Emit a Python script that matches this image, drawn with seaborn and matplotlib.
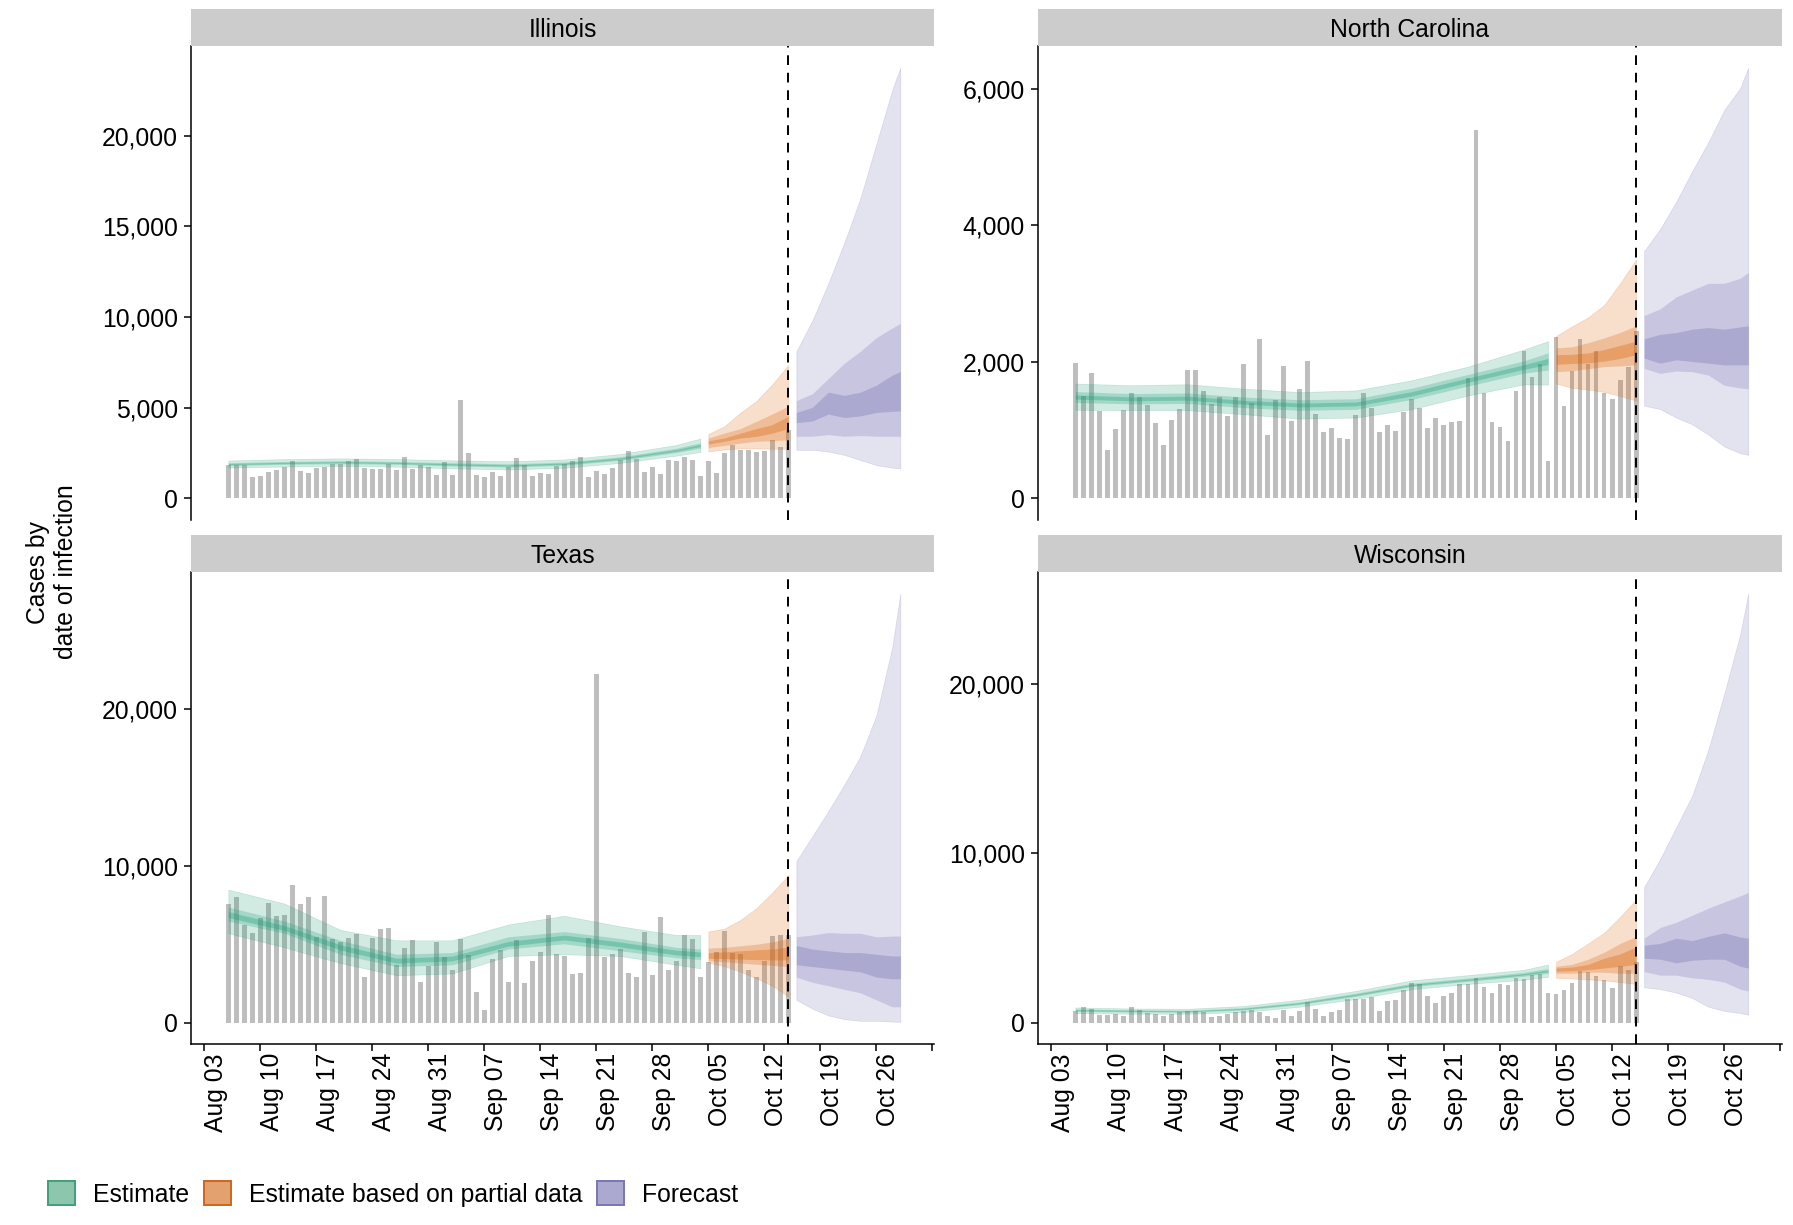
import numpy as np
import pandas as pd
import matplotlib
matplotlib.use("Agg")
import matplotlib.pyplot as plt
import matplotlib.dates as mdates
from matplotlib.patches import Patch
from matplotlib.ticker import FuncFormatter
import seaborn as sns

STATES = ["Illinois", "North Carolina", "Texas", "Wisconsin"]

# daily reported cases, starting on CASE_START
CASE_START = "2020-08-06"
IL_CASES = [1850, 1850, 1850, 1200, 1250, 1440, 1570, 1760, 2090, 1520,
            1400, 1700, 1740, 1920, 1890, 2070, 2180, 1670, 1610, 1610,
            1900, 1570, 2290, 1610, 1850, 1740, 1280, 2020, 1280, 5400,
            2480, 1280, 1180, 1440, 1240, 1760, 2220, 1850, 1240, 1390,
            1370, 1810, 1900, 2070, 2290, 1170, 1520, 1350, 1670, 2130,
            2590, 2180, 1440, 1740, 1350, 2110, 2040, 2260, 2130, 1260,
            2070, 1420, 2480, 2960, 2650, 2650, 2550, 2630, 3240, 2810,
            3800]
NC_CASES = [1977, 1502, 1835, 1287, 714, 1023, 1292, 1551, 1487, 1370,
            1111, 788, 1155, 1306, 1884, 1874, 1571, 1380, 1487, 1213,
            1478, 1962, 1394, 2334, 935, 1434, 1933, 1135, 1605, 2011,
            1233, 979, 1028, 891, 866, 1228, 1551, 1326, 979, 1076,
            993, 1272, 1458, 1321, 1032, 1184, 1072, 1125, 1130, 1757,
            5400, 1541, 1125, 1047, 846, 1576, 2163, 1771, 1967, 548,
            2358, 1350, 1859, 2339, 1972, 2153, 1551, 1453, 1737, 1918,
            2450]
TX_CASES = [7550, 8040, 6230, 5700, 6660, 7610, 6830, 6870, 8760, 7570,
            8020, 5490, 8060, 5320, 5170, 5420, 5660, 2890, 5380, 5980,
            6020, 3680, 4740, 5250, 2620, 3620, 5130, 4210, 3360, 5360,
            4320, 1980, 770, 4060, 4620, 2620, 5270, 2510, 3910, 4510,
            6850, 4380, 4250, 3110, 3150, 5420, 22270, 4210, 4380, 4700,
            3150, 2890, 5810, 3020, 6760, 3360, 3930, 5620, 5340, 2940,
            3850, 4530, 5850, 4420, 4360, 3360, 2890, 3930, 5530, 5590,
            5600]
WI_CASES = [690, 930, 790, 430, 430, 530, 400, 890, 770, 590,
            530, 400, 530, 630, 690, 690, 650, 300, 370, 530,
            630, 690, 730, 630, 360, 260, 770, 390, 690, 1200,
            790, 400, 600, 750, 1380, 1380, 1380, 1480, 690, 1300,
            1360, 1910, 2360, 2270, 1580, 1180, 1580, 1730, 2270, 2270,
            2660, 2070, 1730, 2270, 2230, 2660, 2560, 2820, 2860, 1770,
            1680, 1930, 2320, 3050, 3010, 2760, 2500, 2050, 3310, 3130,
            3600]

EST_DATES = ["2020-08-06", "2020-08-13", "2020-08-20", "2020-08-27", "2020-09-03",
             "2020-09-10", "2020-09-17", "2020-09-24", "2020-10-01", "2020-10-04"]
PARTIAL_DATES = ["2020-10-05", "2020-10-07", "2020-10-09", "2020-10-11",
                 "2020-10-13", "2020-10-15"]
FORECAST_DATES = ["2020-10-16", "2020-10-18", "2020-10-20", "2020-10-22",
                  "2020-10-24", "2020-10-26", "2020-10-28", "2020-10-29"]
FORECAST_LINE = "2020-10-15"

# each row: lower 90, lower 50, lower 20, upper 20, upper 50, upper 90
IL_EST = [(1700, 1810, 1860, 1920, 1970, 2090), (1760, 1880, 1930, 1990, 2040, 2170),
          (1800, 1920, 1970, 2030, 2080, 2210), (1750, 1880, 1930, 1990, 2040, 2170),
          (1660, 1790, 1845, 1915, 1970, 2100), (1600, 1730, 1785, 1855, 1910, 2050),
          (1690, 1830, 1885, 1955, 2010, 2150), (1960, 2100, 2160, 2240, 2300, 2450),
          (2360, 2530, 2605, 2695, 2770, 2950), (2560, 2770, 2865, 2975, 3070, 3300)]
IL_PARTIAL = [(2590, 2810, 3000, 3180, 3330, 3550), (2700, 2920, 3150, 3330, 3600, 3980),
              (2760, 3050, 3330, 3600, 3850, 4720), (2760, 3150, 3420, 3850, 4250, 5370),
              (2740, 3180, 3600, 4070, 4660, 6290), (2740, 3240, 3850, 4530, 5090, 7360)]
IL_FORECAST = [(2680, 3430, 4180, 4740, 5390, 8110), (2680, 3430, 4270, 5020, 5770, 9800),
               (2590, 3520, 4650, 5860, 6610, 11860), (2400, 3430, 4460, 5680, 7450, 14100),
               (2120, 3470, 4550, 5860, 8110, 16540), (1840, 3430, 4740, 6240, 8860, 19540),
               (1700, 3430, 4800, 6800, 9400, 22530), (1650, 3430, 4830, 6990, 9650, 23750)]

NC_EST = [(1298, 1405, 1455, 1515, 1565, 1682), (1293, 1385, 1430, 1486, 1535, 1657),
          (1293, 1390, 1440, 1496, 1545, 1672), (1234, 1330, 1380, 1436, 1485, 1607),
          (1169, 1290, 1340, 1396, 1445, 1557), (1184, 1305, 1355, 1411, 1460, 1582),
          (1308, 1450, 1500, 1564, 1615, 1731), (1507, 1645, 1700, 1762, 1815, 1930),
          (1670, 1835, 1892, 1958, 2015, 2180), (1667, 1880, 1960, 2050, 2130, 2303)]
NC_PARTIAL = [(1682, 1856, 1965, 2104, 2204, 2378), (1620, 1870, 1975, 2110, 2220, 2520),
              (1595, 1900, 1985, 2130, 2280, 2650), (1560, 1930, 2010, 2180, 2350, 2830),
              (1500, 1940, 2050, 2240, 2430, 3150), (1433, 1955, 2104, 2303, 2527, 3497)]
NC_FORECAST = [(1358, 1905, 2055, 2338, 2677, 3622), (1308, 1831, 1980, 2403, 2776, 3945),
               (1184, 1866, 2030, 2428, 2950, 4343), (1085, 1856, 2005, 2478, 3050, 4791),
               (935, 1806, 1980, 2502, 3149, 5214), (761, 1657, 1955, 2478, 3149, 5686),
               (662, 1617, 1955, 2512, 3224, 6010), (637, 1607, 1955, 2527, 3308, 6308)]

TX_EST = [(5700, 6480, 6705, 7085, 7375, 8490), (4805, 5700, 5880, 6190, 6480, 7600),
          (3800, 4360, 4640, 4970, 5250, 5920), (3020, 3575, 3800, 4110, 4360, 5250),
          (3130, 3690, 3940, 4240, 4470, 5250), (4250, 4695, 4880, 5180, 5475, 6260),
          (4360, 5030, 5280, 5580, 5810, 6815), (4250, 4580, 4830, 5140, 5365, 6145),
          (3690, 4135, 4320, 4620, 4805, 5590), (3465, 4025, 4210, 4510, 4695, 5590)]
TX_PARTIAL = [(3830, 3950, 4100, 4450, 4750, 5810), (3600, 3880, 4080, 4520, 4800, 6000),
              (3250, 3800, 4050, 4580, 4900, 6550), (2830, 3720, 4020, 4640, 5000, 7300),
              (2350, 3650, 4000, 4700, 5150, 8300), (1660, 3570, 4000, 4810, 5380, 9420)]
TX_FORECAST = [(1450, 2905, 3690, 4920, 5475, 10300), (890, 2570, 3575, 4690, 5590, 11900),
               (450, 2350, 3465, 4580, 5745, 13500), (220, 2120, 3350, 4470, 5700, 15200),
               (110, 1900, 3240, 4470, 5700, 17000), (110, 1450, 2905, 4360, 5475, 19600),
               (60, 1005, 2795, 4250, 5520, 24000), (45, 1005, 2795, 4250, 5520, 27400)]

WI_EST = [(560, 665, 705, 755, 795, 890), (520, 625, 665, 715, 755, 830),
          (520, 605, 645, 685, 725, 810), (620, 740, 785, 835, 880, 980),
          (935, 1060, 1110, 1170, 1220, 1350), (1390, 1545, 1605, 1675, 1735, 1870),
          (1970, 2120, 2185, 2255, 2320, 2490), (2280, 2430, 2495, 2565, 2630, 2800),
          (2530, 2735, 2810, 2890, 2965, 3115), (2700, 2910, 3000, 3100, 3190, 3430)]
WI_PARTIAL = [(2640, 2910, 3030, 3220, 3320, 3590), (2600, 2910, 3060, 3280, 3440, 4050),
              (2550, 2970, 3120, 3430, 3740, 4670), (2490, 2970, 3220, 3800, 4150, 5300),
              (2390, 2910, 3320, 4050, 4670, 6230), (2280, 2910, 3430, 4470, 5090, 7270)]
WI_FORECAST = [(2080, 3010, 3800, 4570, 4985, 8000), (1970, 2800, 3740, 4670, 5610, 9660),
               (1770, 2800, 3530, 4985, 5920, 11530), (1450, 2640, 3680, 4840, 6335, 13400),
               (935, 2555, 3740, 5090, 6750, 16100), (685, 2390, 3740, 5300, 7120, 19420),
               (560, 1970, 3320, 5050, 7480, 22950), (460, 1870, 3220, 4985, 7685, 25340)]

IL_YTICKS = [0, 5000, 10000, 15000, 20000]
NC_YTICKS = [0, 2000, 4000, 6000]
TX_YTICKS = [0, 10000, 20000]
WI_YTICKS = [0, 10000, 20000]

XTICK_START = "2020-08-03"
XTICK_END = "2020-11-02"
X_LIMITS = ("2020-08-01 08:00", "2020-11-02 05:00")

LEGEND_LABELS = ["Estimate", "Estimate based on partial data", "Forecast"]
COLORS = ["#1B9E77", "#D95F02", "#7570B3"]
LEGEND_FACE = ["#8CC6AC", "#E2A16F", "#ABA9D0"]
LEGEND_EDGE = ["#3E9F7D", "#D0651B", "#7A76B4"]

sns.set_theme(style="ticks")
plt.rcParams["font.family"] = ["Liberation Sans", "DejaVu Sans"]
plt.rcParams["axes.linewidth"] = 1.1
plt.rcParams["xtick.major.width"] = 1.1
plt.rcParams["ytick.major.width"] = 1.1
plt.rcParams["xtick.major.size"] = 5
plt.rcParams["ytick.major.size"] = 5
plt.rcParams["axes.edgecolor"] = "black"
plt.rcParams["xtick.color"] = "black"
plt.rcParams["ytick.color"] = "black"
plt.rcParams["text.color"] = "black"
plt.rcParams["axes.labelcolor"] = "black"

FS = 17.8
W, H = 1793, 1225


def box(x0, y0, x1, y1):
    return [x0 / W, 1 - y1 / H, (x1 - x0) / W, (y1 - y0) / H]


panels = {
    "Illinois": (IL_CASES, IL_EST, IL_PARTIAL, IL_FORECAST, IL_YTICKS, (191, 46, 934, 520), False),
    "North Carolina": (NC_CASES, NC_EST, NC_PARTIAL, NC_FORECAST, NC_YTICKS, (1038, 46, 1782, 520), False),
    "Texas": (TX_CASES, TX_EST, TX_PARTIAL, TX_FORECAST, TX_YTICKS, (191, 572, 934, 1044), True),
    "Wisconsin": (WI_CASES, WI_EST, WI_PARTIAL, WI_FORECAST, WI_YTICKS, (1038, 572, 1782, 1044), True),
}

fig = plt.figure(figsize=(W / 100, H / 100), dpi=100)

xticks = pd.date_range(XTICK_START, XTICK_END, freq="7D")
xlabels = [d.strftime("%b %d") for d in xticks]
xlabels[-1] = ""

for state in STATES:
    cases, est, partial, fc, yticks, (x0, y0, x1, y1), bottom = panels[state]
    ax = fig.add_axes(box(x0, y0, x1, y1))

    xcase = mdates.date2num(pd.date_range(CASE_START, periods=len(cases)))
    sns.barplot(x=xcase, y=cases, native_scale=True, color="#BEBEBE", saturation=1,
                width=0.6, errorbar=None, linewidth=0, ax=ax, zorder=1)

    top = 0
    for dates, rows, col in [(EST_DATES, est, COLORS[0]),
                             (PARTIAL_DATES, partial, COLORS[1]),
                             (FORECAST_DATES, fc, COLORS[2])]:
        d = mdates.date2num(pd.to_datetime(dates))
        r = np.array(rows, dtype=float)
        top = max(top, r.max())
        ax.fill_between(d, r[:, 0], r[:, 5], color=col, alpha=0.2, lw=0.5, zorder=2)
        ax.fill_between(d, r[:, 1], r[:, 4], color=col, alpha=0.25, lw=0, zorder=3)
        ax.fill_between(d, r[:, 2], r[:, 3], color=col, alpha=0.33, lw=0, zorder=4)

    ax.axvline(mdates.date2num(pd.Timestamp(FORECAST_LINE)), color="black", lw=1.4,
               dashes=(5, 4), zorder=6)

    top = max(top, max(cases))
    ax.set_ylim(-0.05 * top, 1.05 * top)
    ax.set_xlim(*mdates.date2num(pd.to_datetime(list(X_LIMITS))))
    ax.set_yticks(yticks)
    ax.yaxis.set_major_formatter(FuncFormatter(lambda v, p: f"{int(v):,}"))
    ax.tick_params(axis="y", labelsize=FS, pad=4.5, labelcolor="black")
    ax.set_xlabel("")
    ax.set_ylabel("")
    sns.despine(ax=ax)
    if bottom:
        ax.set_xticks(mdates.date2num(xticks))
        ax.set_xticklabels(xlabels, rotation=90, ha="left", va="top", fontsize=FS,
                           color="black")
        ax.tick_params(axis="x", pad=1.5)
    else:
        ax.spines["bottom"].set_visible(False)
        ax.set_xticks([])

    sx = fig.add_axes(box(x0, y0 - 37, x1, y0))
    sx.set_facecolor("#CCCCCC")
    for s in sx.spines.values():
        s.set_visible(False)
    sx.set_xticks([])
    sx.set_yticks([])
    sx.text(0.5, 0.44, state, ha="center", va="center", fontsize=FS, color="black",
            transform=sx.transAxes)

fig.text(52 / W, 1 - 572 / H, "Cases by\ndate of infection", rotation=90, ha="center",
         va="center", multialignment="center", fontsize=FS, color="black")

handles = [Patch(facecolor=f, edgecolor=e, linewidth=1.4) for f, e in zip(LEGEND_FACE, LEGEND_EDGE)]
fig.legend(handles, LEGEND_LABELS, loc="center left", bbox_to_anchor=(48 / W, 1 - 1194 / H),
           ncol=3, frameon=False, fontsize=FS, handlelength=1.1, handleheight=1.1,
           handletextpad=0.72, columnspacing=0.6, borderaxespad=0, borderpad=0)

fig.savefig("out.png", dpi=100)
